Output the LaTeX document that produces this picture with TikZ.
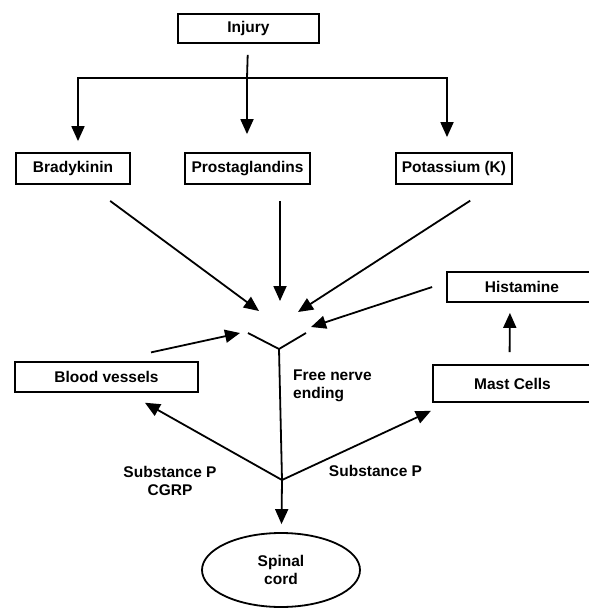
\documentclass[tikz,border=0pt]{standalone}
\usepackage{fontspec}
\setmainfont{Liberation Sans}
\usetikzlibrary{arrows.meta,shapes.geometric}
\tikzset{
  box/.style={draw, line width=1.8pt, inner sep=0pt, minimum height=30pt},
}
\begin{document}
\begin{tikzpicture}[x=1pt, y=-1pt, line width=1.8pt,
    font=\fontsize{15.5}{18}\selectfont\bfseries,
    >={Triangle[length=15pt,width=13pt]}]
            \useasboundingbox (0,0) rectangle (589,608);
            \clip (0,0) rectangle (589,608);

            \node[box, minimum width=141pt, minimum height=29pt] (injury) at (248.5,28.5) {Injury};
            \node[box, minimum width=114pt, minimum height=31pt] (brady) at (73,168.5) {Bradykinin};
            \node[box, minimum width=125pt, minimum height=31pt] (prosta) at (247.5,168.5) {Prostaglandins};
            \node[box, minimum width=116pt, minimum height=31pt] (potas) at (454,168.5) {Potassium (K)};
            \node[box, minimum width=150pt] (hist) at (522,287) {Histamine};
            \node[box, minimum width=159pt, minimum height=37pt] (mast) at (512.5,383.5) {Mast Cells};
            \node[box, minimum width=183pt] (blood) at (106.5,377) {Blood vessels};
            \node[draw, ellipse, inner sep=0pt, minimum width=158pt, minimum height=74pt, align=center] (spinal) at (281,570) {Spinal\\cord};

            \coordinate (split) at (247,78);
            \coordinate (nl) at (248,333);
            \coordinate (nj) at (279,349);
            \coordinate (nr) at (306,333);
            \coordinate (junc) at (282,480);
            \coordinate (inB) at (259,311);
            \coordinate (inP) at (280,301);
            \coordinate (inK) at (298,312);
            \coordinate (inH) at (311,327);
            \coordinate (inV) at (240,333);

            \draw[shorten <=11pt] (injury) to (split);
            \draw[->, shorten >=18pt] (split) to (prosta.north -| split);
            \draw[->, shorten >=11pt] (split) -| ([xshift=5pt]brady.north);
            \draw[->, shorten >=15pt] (split) -| ([xshift=-7pt]potas.north);

            \draw[->, shorten <=27pt] ([xshift=15.5pt]brady.south) to (inB);
            \draw[->, shorten <=16pt] (prosta.south -| inP) to (inP);
            \draw[->, shorten <=29pt] ([xshift=40.6pt]potas.south) to (inK);
            \draw[->, shorten <=14.7pt] ([yshift=4.6pt]hist.west) to (inH);
            \draw[->, shorten <=41pt] ([xshift=4.5pt]blood.north) to (inV);

            \draw (nl) -- (nj) -- (nr);
            \draw (nj) -- (junc);
            \draw[->, shorten >=8pt] (junc) to (spinal);
            \draw[->, shorten >=20pt] (junc) to ([xshift=21pt]blood.south);
            \draw[->, shorten >=19pt] (junc) to ([xshift=16pt]mast.south west);
            \draw[->, shorten <=12pt, shorten >=10pt] ([xshift=-3pt]mast.north) to ([xshift=-12pt]hist.south);

            \node[anchor=west, align=left] (fne) at (289,386) {Free nerve\\ending};
            \node[align=center] (subl) at (170,481) {Substance P\\CGRP};
            \node (subr) at (375.5,471) {Substance P};
        \end{tikzpicture}
\end{document}
